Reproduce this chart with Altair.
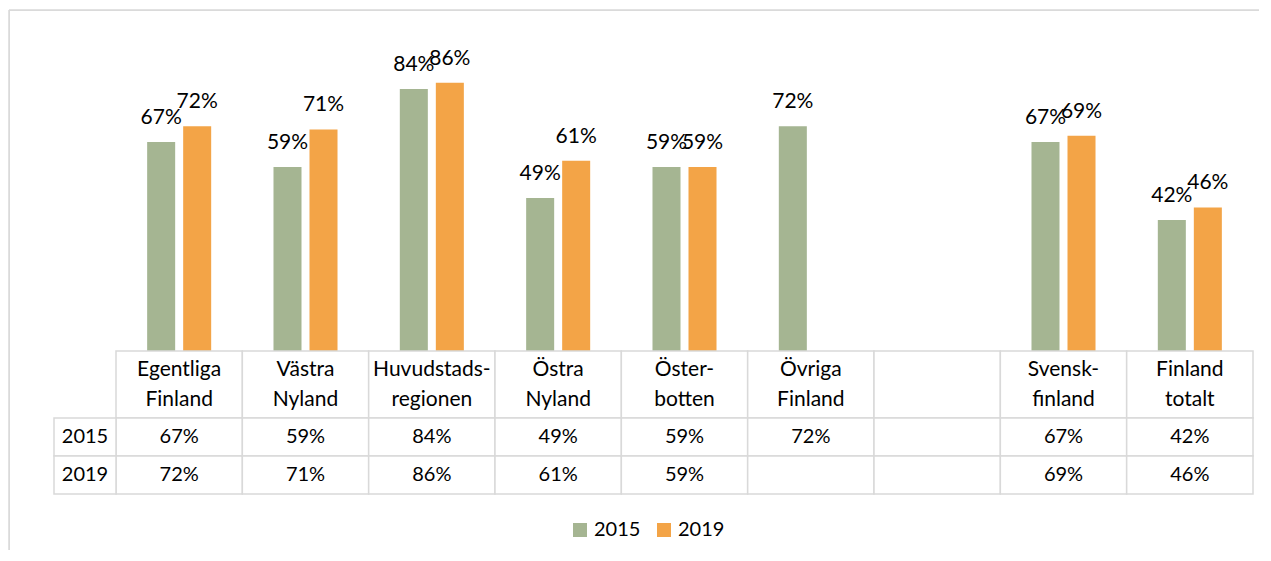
import altair as alt
import pandas as pd

# ---- data ----
categories = ["Egentliga\nFinland", "Västra\nNyland", "Huvudstads-\nregionen", "Östra\nNyland",
              "Öster-\nbotten", "Övriga\nFinland", " ", "Svensk-\nfinland", "Finland\ntotalt"]
years = ["2015", "2019"]
values_2015 = [0.67, 0.59, 0.84, 0.49, 0.59, 0.72, None, 0.67, 0.42]
values_2019 = [0.72, 0.71, 0.86, 0.61, 0.59, None, None, 0.69, 0.46]
colors = ["#A5B592", "#F3A447"]

# ---- tables built from the arrays ----
rows = []
for i, c in enumerate(categories):
    for y, vals in zip(years, [values_2015, values_2019]):
        v = vals[i]
        rows.append({"cat": c, "year": y, "value": v,
                     "label": "" if v is None else f"{round(v * 100)}%"})
cells_df = pd.DataFrame(rows)
bar_df = cells_df.dropna(subset=["value"])
hdr_df = pd.DataFrame({"cat": categories, "row": ["hdr"] * len(categories)})
rowhdr_df = pd.DataFrame({"col": ["hdr"] * len(years), "year": years})
one = pd.DataFrame({"a": [0]})

W, H = 1250, 540
FONT = "Lato"
GRID = "#d9d9d9"

xcat = alt.X("cat:N", scale=alt.Scale(domain=categories, range=[107, 1244],
                                      paddingInner=0, paddingOuter=0), axis=None)
xoff = alt.XOffset("year:N", scale=alt.Scale(domain=years, paddingInner=0.222, paddingOuter=0.865))
yval = alt.Y("value:Q", scale=alt.Scale(domain=[0, 1], range=[341, 29]), axis=None)
yhdr = alt.Y("row:N", scale=alt.Scale(domain=["hdr"], range=[341, 408],
                                      paddingInner=0, paddingOuter=0), axis=None)
yrow = alt.Y("year:N", scale=alt.Scale(domain=years, range=[408, 484],
                                       paddingInner=0, paddingOuter=0), axis=None)
xrowhdr = alt.X("col:N", scale=alt.Scale(domain=["hdr"], range=[45, 107],
                                         paddingInner=0, paddingOuter=0), axis=None)

border_top = alt.Chart(one).mark_rule(color=GRID, strokeWidth=1.5).encode(
    x=alt.value(0), x2=alt.value(W), y=alt.value(0))
border_left = alt.Chart(one).mark_rule(color=GRID, strokeWidth=1.5).encode(
    x=alt.value(0), y=alt.value(0), y2=alt.value(H))

bars = alt.Chart(bar_df).mark_bar().encode(
    x=xcat, xOffset=xoff, y=yval,
    color=alt.Color("year:N", scale=alt.Scale(domain=years, range=colors),
                    legend=alt.Legend(title=None, orient="none", legendX=561, legendY=510,
                                      direction="horizontal", symbolType="square",
                                      symbolSize=196, symbolStrokeWidth=0,
                                      labelFont=FONT, labelFontSize=20, labelColor="#000",
                                      labelOffset=4, columnPadding=13, padding=0)))

labels = alt.Chart(bar_df).mark_text(font=FONT, fontSize=21, dy=-18, baseline="alphabetic",
                                     color="#000").encode(
    x=xcat, xOffset=xoff, y=yval, text="label:N")

hdr_cells = alt.Chart(hdr_df).mark_rect(fill="white", stroke=GRID, strokeWidth=1.5).encode(
    x=xcat, y=yhdr)
hdr_text = alt.Chart(hdr_df).mark_text(font=FONT, fontSize=21, lineBreak="\n", lineHeight=30,
                                       baseline="middle", dy=-15, color="#000").encode(
    x=xcat, y=yhdr, text="cat:N")

cells = alt.Chart(cells_df).mark_rect(fill="white", stroke=GRID, strokeWidth=1.5).encode(
    x=xcat, y=yrow)
cell_text = alt.Chart(cells_df).mark_text(font=FONT, fontSize=20, baseline="middle",
                                          color="#000").encode(
    x=xcat, y=yrow, text="label:N")

rh_cells = alt.Chart(rowhdr_df).mark_rect(fill="white", stroke=GRID, strokeWidth=1.5).encode(
    x=xrowhdr, y=yrow)
rh_text = alt.Chart(rowhdr_df).mark_text(font=FONT, fontSize=20, baseline="middle",
                                         color="#000").encode(
    x=xrowhdr, y=yrow, text="year:N")

chart = alt.layer(
    border_top, border_left, bars, hdr_cells, cells, rh_cells,
    labels, hdr_text, cell_text, rh_text
).resolve_scale(
    x="independent", y="independent"
).properties(
    width=W, height=H,
    padding={"left": 1, "top": 2, "right": 0, "bottom": 0},
    autosize=alt.AutoSizeParams(type="none"),
    background="white",
).configure_view(stroke=None).configure(font=FONT)

chart.save("out.html", embed_options={"renderer": "svg", "actions": False})
